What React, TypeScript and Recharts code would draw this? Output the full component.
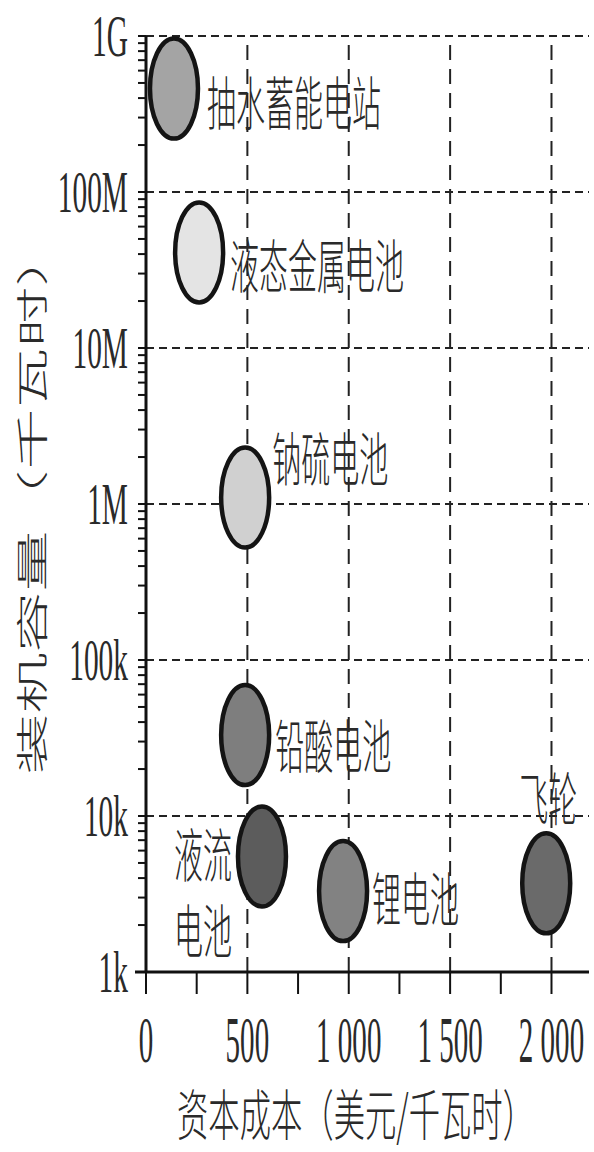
import React from 'react';
import {
  ScatterChart,
  Scatter,
  XAxis,
  YAxis,
  ReferenceLine,
  Label,
} from 'recharts';

// Storage technologies: capital cost (USD/kWh) vs installed capacity (kWh)
const techNames = ['抽水蓄能电站', '液态金属电池', '钠硫电池', '铅酸电池', '液流电池', '锂电池', '飞轮'];
const capitalCost = [138, 262, 489, 489, 572, 972, 1974];
const installedCapacity = [4.6e8, 4.1e7, 1.1e6, 3.3e4, 5.5e3, 3.3e3, 3.7e3];

// Axis ticks
const xTickValues = [0, 500, 1000, 1500, 2000];
const xTickLabels = ['0', '500', '1 000', '1 500', '2 000'];
const yTickValues = [1e3, 1e4, 1e5, 1e6, 1e7, 1e8, 1e9];
const yTickLabels = ['1k', '10k', '100k', '1M', '10M', '100M', '1G'];

const xTitle = '资本成本（美元/千瓦时）';
const yTitle = '装机容量（千瓦时）';

// Minor ticks: every 250 on x, 2..9 within each decade on y
const xAllTicks: number[] = [];
for (let v = 0; v <= 2000; v += 250) xAllTicks.push(v);
const yAllTicks: number[] = [];
yTickValues.forEach((d, i) => {
  yAllTicks.push(d);
  if (i < yTickValues.length - 1) for (let m = 2; m <= 9; m++) yAllTicks.push(d * m);
});

const points = techNames.map((name, i) => ({
  name,
  cost: capitalCost[i],
  capacity: installedCapacity[i],
}));

// Fill of each bubble
const bubbleFill: Record<string, string> = {
  抽水蓄能电站: '#a4a4a4',
  液态金属电池: '#e4e4e4',
  钠硫电池: '#d0d0d0',
  铅酸电池: '#7e7e7e',
  液流电池: '#5c5c5c',
  锂电池: '#828282',
  飞轮: '#6a6a6a',
};

// Where each name sits relative to its bubble
const labelPlace: Record<string, { dx: number; dy: number; anchor: 'start' | 'end' | 'middle'; wrap?: number; lineGap?: number }> = {
  抽水蓄能电站: { dx: 33, dy: 11, anchor: 'start' },
  液态金属电池: { dx: 31, dy: 10, anchor: 'start' },
  钠硫电池: { dx: 27, dy: -42, anchor: 'start' },
  铅酸电池: { dx: 30, dy: 8, anchor: 'start' },
  液流电池: { dx: -30, dy: -5, anchor: 'end', wrap: 2, lineGap: 76 },
  锂电池: { dx: 29, dy: 5, anchor: 'start' },
  飞轮: { dx: 2, dy: -88, anchor: 'middle' },
};

const CJK = "'Noto Sans CJK SC', 'Noto Sans', sans-serif";
const SERIF = "'Liberation Serif', 'DejaVu Serif', serif";
const INK = '#2a2a2a';
const SQUEEZE = 0.5;

type SqProps = {
  x: number;
  y: number;
  sx?: number;
  size: number;
  family: string;
  weight?: number;
  anchor?: 'start' | 'end' | 'middle';
  baseline?: string;
  children: React.ReactNode;
};

// Horizontally condensed text
const Squeezed = ({ x, y, sx = SQUEEZE, size, family, weight = 400, anchor = 'start', baseline, children }: SqProps) => (
  <text
    transform={`translate(${x},${y}) scale(${sx},1)`}
    x={0}
    y={0}
    fontSize={size}
    fontFamily={family}
    fontWeight={weight}
    fill={INK}
    textAnchor={anchor}
    dominantBaseline={baseline as any}
  >
    {children}
  </text>
);

const Bubble = (props: any) => {
  const { cx, cy, payload } = props;
  if (cx == null || cy == null) return null;
  const name: string = payload.name;
  const place = labelPlace[name];
  const lines: string[] = [];
  if (place.wrap) {
    for (let i = 0; i < name.length; i += place.wrap) lines.push(name.slice(i, i + place.wrap));
  } else {
    lines.push(name);
  }
  return (
    <g>
      <ellipse cx={cx} cy={cy} rx={24} ry={50} fill={bubbleFill[name]} stroke="#141414" strokeWidth={4.5} />
      {lines.map((ln, k) => (
        <Squeezed
          key={k}
          x={cx + place.dx}
          y={cy + place.dy + k * (place.lineGap || 0)}
          size={58}
          family={CJK}
          weight={300}
          anchor={place.anchor}
          baseline="central"
        >
          {ln}
        </Squeezed>
      ))}
    </g>
  );
};

const XTick = (props: any) => {
  const { x, y, payload } = props;
  const idx = xTickValues.indexOf(payload.value);
  if (idx < 0) return null;
  return (
    <Squeezed x={x} y={y + 66} sx={0.44} size={66} family={SERIF} anchor="middle">
      {xTickLabels[idx]}
    </Squeezed>
  );
};

const YTick = (props: any) => {
  const { x, y, payload } = props;
  const idx = yTickValues.indexOf(payload.value);
  if (idx < 0) return null;
  return (
    <Squeezed x={x - 8} y={y + 20} sx={0.49} size={60} family={SERIF} anchor="end">
      {yTickLabels[idx]}
    </Squeezed>
  );
};

const XTitle = (props: any) => {
  const vb = props.viewBox || {};
  const cx = vb.x + vb.width / 2 - 12;
  return (
    <g>
      {/* axis line runs a little past the y axis */}
      <line x1={vb.x - 11} x2={vb.x + vb.width} y1={vb.y} y2={vb.y} stroke="#111" strokeWidth={3} />
      <Squeezed x={cx} y={1111} sx={0.57} size={55} family={CJK} weight={300} anchor="middle" baseline="central">
        {xTitle}
      </Squeezed>
    </g>
  );
};

const YTitle = (props: any) => {
  const vb = props.viewBox || {};
  const cx = vb.x + 30;
  const cy = vb.y + vb.height / 2 - 4;
  return (
    <text
      transform={`translate(${cx},${cy}) rotate(-90) scale(1,0.52)`}
      x={0}
      y={0}
      fontSize={61}
      fontFamily={CJK}
      fontWeight={300}
      fill={INK}
      textAnchor="middle"
      dominantBaseline="central"
    >
      {yTitle}
    </text>
  );
};

export default function App() {
  return (
    <div style={{ width: 594, height: 1152, background: '#fff' }}>
      <style>{'body{margin:0;background:#fff}'}</style>
      <ScatterChart width={594} height={1152} margin={{ top: 36, right: 5, bottom: 0, left: 0 }}>
        <XAxis
          type="number"
          dataKey="cost"
          domain={[0, 2185]}
          ticks={xAllTicks}
          interval={0}
          height={180}
          tick={<XTick />}
          tickSize={22}
          tickLine={{ stroke: '#111', strokeWidth: 2 }}
          axisLine={false}
          allowDataOverflow
        >
          <Label content={<XTitle />} position="center" />
        </XAxis>
        <YAxis
          type="number"
          dataKey="capacity"
          scale="log"
          domain={[1e3, 1e9]}
          ticks={yAllTicks}
          interval={0}
          width={146}
          tick={<YTick />}
          tickSize={8}
          tickLine={{ stroke: '#111', strokeWidth: 2 }}
          axisLine={{ stroke: '#111', strokeWidth: 3 }}
          allowDataOverflow
        >
          <Label content={<YTitle />} position="center" />
        </YAxis>
        {yTickValues.slice(1).map((v) => (
          <ReferenceLine key={`h${v}`} y={v} stroke="#222" strokeWidth={2} strokeDasharray="8 5" />
        ))}
        {xTickValues.slice(1).map((v) => (
          <ReferenceLine key={`v${v}`} x={v} stroke="#222" strokeWidth={2} strokeDasharray="15 9" />
        ))}
        <Scatter data={points} shape={<Bubble />} isAnimationActive={false} />
      </ScatterChart>
    </div>
  );
}
